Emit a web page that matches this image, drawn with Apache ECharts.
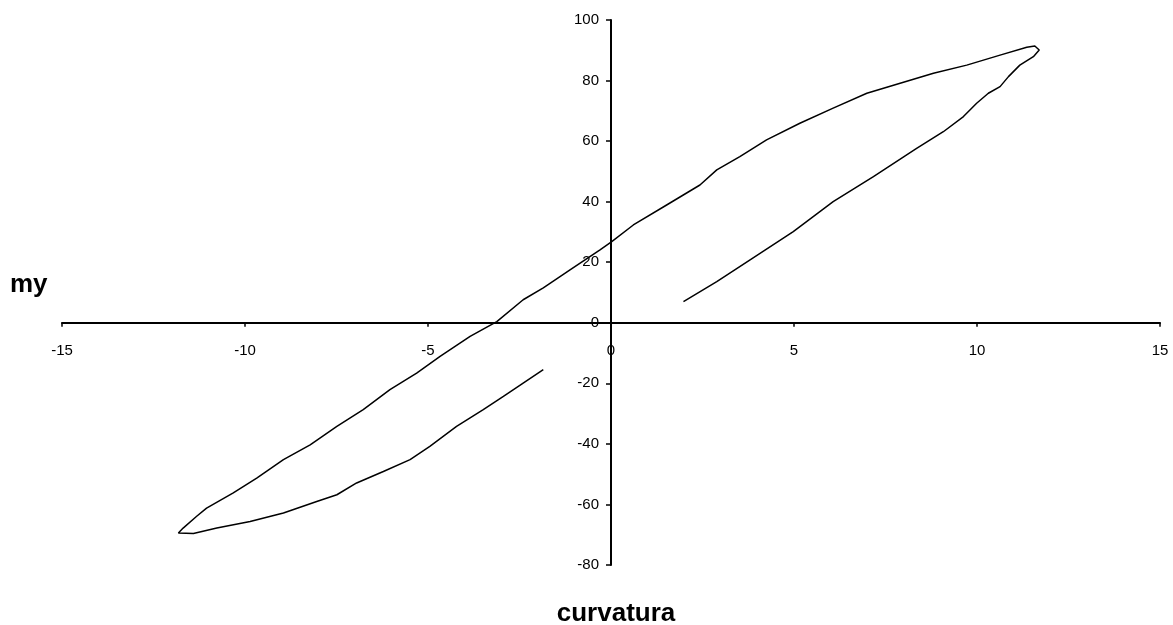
<!DOCTYPE html>
<html>
<head>
<meta charset="utf-8">
<title>my - curvatura</title>
<script src="https://cdn.jsdelivr.net/npm/echarts@6/dist/echarts.min.js"></script>
<style>
  html, body { margin: 0; padding: 0; background: #fff; }
  #chart { width: 1173px; height: 625px; }
</style>
</head>
<body>
<div id="chart"></div>
<script>
// curva momento-curvatura (ordine di percorrenza)
var curvatura = [
  1.98, 2.89, 3.80, 4.98, 6.07, 7.17, 8.35, 9.08, 9.63, 9.99, 10.31, 10.63, 10.86, 11.17, 11.54, 11.70, 11.58,
  11.36, 10.63, 9.72, 8.81, 7.90, 6.99, 6.07, 5.16, 4.25, 3.52, 2.89, 2.43, 1.52, 0.61, 0.02, -0.30,
  -1.12, -1.85, -2.40, -3.12, -3.85, -4.67, -5.31, -6.04, -6.77, -7.49, -8.22, -8.95, -9.68, -10.32, -11.05, -11.32, -11.69, -11.82,
  -11.41, -10.77, -9.86, -8.95, -8.04, -7.49, -6.95, -6.22, -5.49, -4.95, -4.22, -3.49, -2.94, -2.40, -1.85
]
var my = [
  7.0, 13.6, 20.8, 30.1, 40.0, 48.3, 57.6, 63.1, 68.1, 72.5, 75.8, 78.0, 81.3, 85.1, 87.9, 90.1, 91.4,
  91.0, 88.4, 85.1, 82.4, 79.1, 75.8, 70.9, 65.9, 60.4, 54.9, 50.5, 45.5, 38.9, 32.3, 26.8, 24.1,
  17.5, 11.5, 7.6, 0.4, -4.5, -11.1, -16.6, -22.1, -28.7, -34.2, -40.3, -45.2, -51.3, -56.2, -61.2, -63.9, -67.8, -69.4,
  -69.6, -67.8, -65.6, -62.8, -59.0, -56.8, -52.9, -49.1, -45.2, -40.8, -34.2, -28.7, -24.3, -19.9, -15.5
]
var xTicks = [-15, 15, 5]   // min, max, passo
var yTicks = [-80, 100, 20]

var chart = echarts.init(document.getElementById('chart'))

var labelStyle = { color: '#000', fontFamily: 'Liberation Sans', fontSize: 15 }

chart.setOption({
  animation: false,
  grid: { left: 62, right: 13, top: 20, bottom: 60 },
  xAxis: {
    type: 'value',
    min: xTicks[0], max: xTicks[1], interval: xTicks[2],
    axisLine: { onZero: true, lineStyle: { color: '#000', width: 2 } },
    axisTick: { show: true, length: 4, lineStyle: { color: '#000', width: 1.5 } },
    // le etichette restano sul bordo della griglia: le riporto sotto l'asse a y=0
    axisLabel: Object.assign({ margin: -222 }, labelStyle),
    splitLine: { show: false }
  },
  yAxis: {
    type: 'value',
    min: yTicks[0], max: yTicks[1], interval: yTicks[2],
    axisLine: { onZero: true, lineStyle: { color: '#000', width: 2 } },
    axisTick: { show: true, length: 5, lineStyle: { color: '#000', width: 1.5 } },
    axisLabel: Object.assign({ margin: -537 }, labelStyle),
    splitLine: { show: false }
  },
  graphic: [
    {
      type: 'text', x: 10, y: 285,
      style: { text: 'my', fill: '#000', font: 'bold 26px "Liberation Sans"', verticalAlign: 'middle' }
    },
    {
      type: 'text', x: 616, y: 614,
      style: { text: 'curvatura', fill: '#000', font: 'bold 26px "Liberation Sans"', align: 'center', verticalAlign: 'middle' }
    }
  ],
  series: [{
    type: 'line',
    data: curvatura.map(function (c, i) { return [c, my[i]] }),
    showSymbol: false,
    lineStyle: { color: '#000', width: 1.5 }
  }]
})
</script>
</body>
</html>
